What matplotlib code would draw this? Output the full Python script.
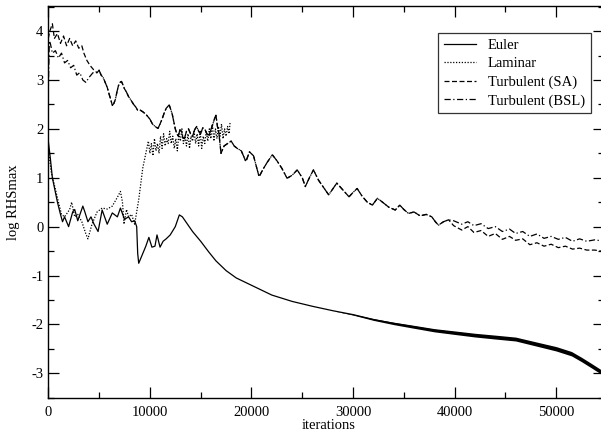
import numpy as np
import matplotlib
matplotlib.use("Agg")
import matplotlib.pyplot as plt

plt.rcParams['font.family'] = ['Liberation Serif', 'DejaVu Serif']

# ---------------- data ----------------
euler_x = [0, 200, 400, 600, 900, 1200, 1400, 1600, 2000, 2400, 2600, 2900, 3400, 3600,
           3900, 4200, 4500, 4900, 5300, 5800, 6300, 6800, 7100, 7500, 7900, 8200, 8500,
           8700, 8800, 8900, 9200, 9600, 9900, 10200, 10500, 10700, 11000, 11300, 11600,
           12000, 12500, 12900, 13200, 13600, 14200, 15000, 15800, 16500, 17500, 18500,
           20000, 22000, 24000, 26000, 28000, 30000, 32000, 34000, 36000, 38000, 40000,
           42000, 44000, 46000, 48000, 50000, 51500, 52500, 53500, 54400]
euler_y = [1.75, 1.4, 1.0, 0.8, 0.5, 0.25, 0.1, 0.2, 0.0, 0.3, 0.35, 0.12, 0.42, 0.3,
           0.1, 0.2, 0.05, -0.1, 0.34, 0.05, 0.28, 0.2, 0.38, 0.15, 0.2, 0.1, 0.12,
           0.0, -0.55, -0.75, -0.6, -0.4, -0.22, -0.42, -0.4, -0.17, -0.42, -0.3, -0.25,
           -0.17, 0.0, 0.24, 0.2, 0.08, -0.1, -0.3, -0.52, -0.7, -0.9, -1.05,
           -1.2, -1.4, -1.53, -1.63, -1.72, -1.8, -1.9, -1.98, -2.05, -2.12, -2.17,
           -2.22, -2.26, -2.3, -2.4, -2.5, -2.6, -2.72, -2.85, -2.97]
# half-width of the noisy band of the Euler residual
euler_noise = [0] * 55 + [0.01, 0.018, 0.025, 0.03, 0.033, 0.036,
                          0.038, 0.04, 0.04, 0.042, 0.045, 0.045, 0.045, 0.045, 0.045]

laminar_x = [0, 300, 600, 1000, 1300, 1600, 2100, 2300, 2600, 2900, 3300, 3700, 3900,
             4300, 4800, 5300, 5800, 6300, 6800, 7100, 7300, 7450, 7700, 7900, 8200,
             8500, 8700, 8900, 9300,
             9700, 9850, 10000, 10150, 10300, 10450, 10600, 10750, 10900, 11050, 11200,
             11350, 11500, 11650, 11800, 11950, 12100, 12250, 12400, 12550, 12700,
             12850, 13000, 13150, 13300, 13450, 13600, 13750, 13900, 14050, 14200,
             14350, 14500, 14650, 14800, 14950, 15100, 15250, 15400, 15550, 15700,
             15850, 16000, 16150, 16300, 16450, 16600, 16750, 16900, 17050, 17200,
             17350, 17500, 17650, 17800, 17900]
laminar_y = [1.6, 1.1, 0.85, 0.5, 0.25, 0.2, 0.35, 0.5, 0.2, 0.25, 0.1, -0.15, -0.25,
             0.05, 0.3, 0.38, 0.36, 0.42, 0.6, 0.72, 0.5, 0.05, 0.35, 0.2, 0.25,
             0.05, 0.3, 0.55, 1.2,
             1.6, 1.75, 1.5, 1.7, 1.45, 1.8, 1.55, 1.7, 1.5, 1.85, 1.6,
             1.9, 1.65, 1.8, 1.7, 1.95, 1.7, 1.85, 1.6, 1.8, 1.55,
             1.9, 1.75, 2.0, 1.7, 1.85, 1.65, 1.9, 1.6, 1.85, 1.75,
             1.95, 1.7, 1.9, 1.65, 1.95, 1.6, 1.85, 1.7, 1.95, 1.75,
             2.0, 1.8, 2.1, 1.75, 2.0, 1.8, 2.05, 1.85, 2.1, 1.8,
             2.0, 1.85, 2.05, 1.9, 2.15]

# start of the two turbulent runs (before they merge)
sa_head_x = [0, 150, 400, 600, 900, 1200, 1500, 1800, 2100, 2400, 2700, 3000, 3300,
             3500, 3800, 4100, 4500]
sa_head_y = [3.85, 4.0, 4.15, 3.85, 3.95, 3.75, 3.9, 3.7, 3.85, 3.7, 3.8, 3.65, 3.7,
             3.55, 3.4, 3.3, 3.2]
bsl_head_x = [0, 100, 200, 400, 700, 1000, 1300, 1600, 1900, 2200, 2500, 2800, 3100,
              3400, 3700, 4000, 4400]
bsl_head_y = [2.8, 3.8, 3.75, 3.55, 3.6, 3.45, 3.55, 3.35, 3.4, 3.25, 3.3, 3.1, 3.15,
              3.0, 2.95, 3.05, 3.15]

# part where both turbulent runs coincide
turb_x = [4800, 5000, 5200, 5400, 5600, 5800, 6000, 6150, 6300, 6450, 6600, 6750, 6900,
          7050, 7200, 7350, 7500, 7700, 7900, 8100, 8400, 8600, 8800, 9000, 9300, 9600,
          9800, 10000, 10250, 10500, 10800, 11000, 11200, 11400, 11600, 11900, 12050,
          12200, 12350, 12500, 12650, 12800, 12950, 13100, 13250, 13400, 13600, 13800,
          14000, 14200, 14400, 14600, 14800, 15000, 15200, 15400, 15600, 15800, 16000,
          16200, 16350, 16500, 16650, 16800, 17000, 17300,
          17650, 18000, 18300, 18600, 19000, 19450, 19800, 20200, 20750, 21100, 21500,
          22050, 22500, 23000, 23500, 24000, 24500, 25000, 25300, 25700, 26100, 26600,
          27100, 27600, 28100, 28400, 29000, 29600, 30000, 30400, 30900, 31400, 31900,
          32400, 32900, 33500, 34150, 34600, 35000, 35450, 36000, 36600, 37200, 37750,
          38100, 38400, 38900, 39400]
turb_y = [3.15, 3.2, 3.1, 3.05, 2.95, 2.85, 2.7, 2.6, 2.48, 2.52, 2.6, 2.75, 2.88,
          2.95, 2.97, 2.9, 2.82, 2.75, 2.66, 2.6, 2.5, 2.45, 2.38, 2.39, 2.35, 2.3,
          2.25, 2.2, 2.1, 2.05, 2.01, 2.1, 2.2, 2.32, 2.42, 2.49, 2.4,
          2.3, 2.15, 2.0, 1.9, 1.85, 1.98, 1.95, 1.82, 1.8, 1.95, 2.0,
          1.9, 1.85, 1.98, 2.05, 1.95, 1.9, 2.02, 2.0, 1.9, 1.85, 1.98,
          2.1, 2.2, 2.28, 2.05, 1.9, 1.5, 1.65,
          1.7, 1.75, 1.65, 1.6, 1.55, 1.33, 1.53, 1.45, 1.02, 1.16, 1.3,
          1.47, 1.35, 1.19, 0.99, 1.05, 1.16, 1.0, 0.82, 1.0, 1.16, 0.95,
          0.8, 0.65, 0.8, 0.89, 0.75, 0.61, 0.7, 0.78, 0.62, 0.5, 0.44,
          0.58, 0.5, 0.4, 0.34, 0.44, 0.35, 0.27, 0.3, 0.22, 0.25, 0.2,
          0.1, 0.03, 0.1, 0.14]

tail_x = [39900, 40700, 41300, 41900, 42600, 43300, 44000, 44700, 45400, 46000, 46700,
          47400, 48100, 48800, 49500, 50200, 50900, 51600, 52300, 53000, 53800, 54400]
sa_tail_y = [0.02, -0.07, 0.0, -0.12, -0.08, -0.2, -0.14, -0.26, -0.2, -0.28, -0.25,
             -0.37, -0.33, -0.4, -0.36, -0.43, -0.4, -0.46, -0.44, -0.48, -0.48, -0.5]
bsl_tail_y = [0.12, 0.05, 0.1, 0.02, 0.06, -0.04, 0.0, -0.1, -0.05, -0.14, -0.1,
              -0.2, -0.15, -0.24, -0.2, -0.26, -0.22, -0.3, -0.25, -0.3, -0.27, -0.29]

labels = ["Euler", "Laminar", "Turbulent (SA)", "Turbulent (BSL)"]
x_ticks = [0, 10000, 20000, 30000, 40000, 50000]
y_ticks = [-3, -2, -1, 0, 1, 2, 3, 4]

# ---------------- figure ----------------
fig = plt.figure(figsize=(6.01, 4.37), dpi=100)
ax = fig.add_axes([48.3 / 601, (437 - 397.7) / 437, (604 - 48.3) / 601, (397.7 - 5.7) / 437])

lw = 0.9
ex = np.array(euler_x, dtype=float)
ey = np.array(euler_y, dtype=float)
en = np.array(euler_noise, dtype=float)
ax.plot(ex, ey, color='black', lw=lw, ls='-', label=labels[0])
ax.fill_between(ex, ey - en, ey + en, color='black', lw=0)

ax.plot(laminar_x, laminar_y, color='black', lw=lw, ls=(0, (1, 1.3)), label=labels[1])

sa_x = sa_head_x + turb_x + tail_x
sa_y = sa_head_y + turb_y + sa_tail_y
bsl_x = bsl_head_x + turb_x + tail_x
bsl_y = bsl_head_y + turb_y + bsl_tail_y
ax.plot(sa_x, sa_y, color='black', lw=lw, ls=(0, (4, 2)), label=labels[2])
ax.plot(bsl_x, bsl_y, color='black', lw=lw, ls=(0, (5, 2, 1, 2)), label=labels[3])

ax.set_xlim(0, 54700)
ax.set_ylim(-3.5, 4.52)
ax.set_xticks(x_ticks)
ax.set_xticklabels([str(t) for t in x_ticks])
ax.set_yticks(y_ticks)
ax.set_yticklabels([str(t) for t in y_ticks])
ax.set_xticks(np.arange(5000, 55000, 10000), minor=True)
ax.set_yticks(np.arange(-3.5, 4.6, 1.0), minor=True)
ax.tick_params(which='both', direction='in', top=True, right=True, labelsize=10.5,
               colors='black', width=0.9)
ax.tick_params(which='major', length=8)
ax.tick_params(which='minor', length=4)
ax.tick_params(axis='x', pad=6)
for s in ax.spines.values():
    s.set_linewidth(1.0)

ax.set_xlabel("iterations", fontsize=10.5, labelpad=0)
ax.xaxis.set_label_coords((329 - 48.3) / (604 - 48.3), -0.055)
ax.set_ylabel("log RHSmax", fontsize=10.5, labelpad=8)

leg = ax.legend(loc='upper right', bbox_to_anchor=((591 - 48.3) / (604 - 48.3), (397.7 - 33) / (397.7 - 5.7)),
                fontsize=10.5, frameon=True, fancybox=False, edgecolor='black',
                handlelength=2.2, handletextpad=0.8, labelspacing=0.35, borderpad=0.4,
                borderaxespad=0)
leg.get_frame().set_linewidth(0.9)

fig.savefig("out.png", dpi=100)
